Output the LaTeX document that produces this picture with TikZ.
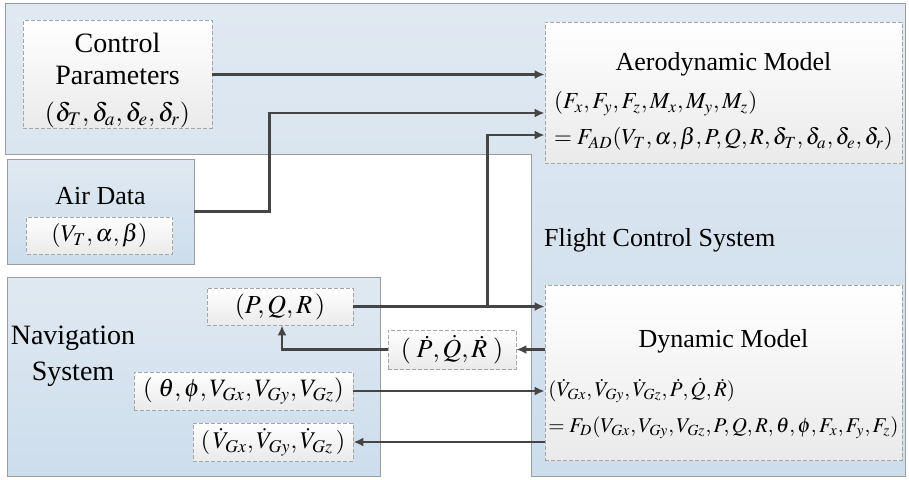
\documentclass[tikz,border=0pt]{standalone}
\usepackage{mathptmx}
\usepackage[no-math]{fontspec}
\setmainfont{Liberation Serif}
\usetikzlibrary{arrows.meta,positioning}
\definecolor{paneltop}{HTML}{E0E9F2}
\definecolor{panelbot}{HTML}{CCDDEC}
\definecolor{edgegray}{HTML}{9C9C9C}
\definecolor{boxgray}{HTML}{EAEAEA}
\definecolor{flowgray}{HTML}{454545}

\begin{document}
\begin{tikzpicture}[
  x=0.5pt, y=-0.5pt,
  panel/.style={draw=edgegray, top color=paneltop, bottom color=panelbot, inner sep=0pt},
  inbox/.style={draw=black!35, dash pattern=on 2pt off 1pt, top color=white, bottom color=boxgray, inner sep=0pt, align=center},
  flow/.style={-{Latex[length=5pt,width=4.5pt]}, line width=1.1pt, draw=flowgray},
  bigtext/.style={font=\fontsize{14pt}{18pt}\selectfont},
  midtext/.style={font=\fontsize{13pt}{16pt}\selectfont},
  smalltext/.style={font=\fontsize{12pt}{14pt}\selectfont},
]
\useasboundingbox (0,0) rectangle (909,479);

% flight control system
\draw[panel] (5,3) -- (905,3) -- (905,476) -- (531,476) -- (531,154) -- (5,154) -- cycle;
\node[midtext, anchor=west] (fcs) at (537,240) {Flight Control System};

\node[inbox, bigtext, minimum width=94.5pt, minimum height=52.5pt] (ctrl) at (117.5,74.5)
  {\rule{0pt}{16pt}Control\\[-2pt]Parameters\\[0.5pt]\fontsize{13pt}{18pt}\selectfont$(\delta_T,\delta_a,\delta_e,\delta_r)$};

\node[inbox, font=\fontsize{11.5pt}{13pt}\selectfont, minimum width=178.5pt, minimum height=70.5pt] (aero) at (723.5,92.5)
  {\begin{tabular}{@{}l@{}}
   \multicolumn{1}{c}{\rule{0pt}{19pt}\fontsize{13pt}{15pt}\selectfont Aerodynamic Model}\\[6pt]
   $(F_x,F_y,F_z,M_x,M_y,M_z)$\\[5pt]
   $=F_{AD}(V_T,\alpha,\beta,P,Q,R,\delta_T,\delta_a,\delta_e,\delta_r)$
   \end{tabular}};

\node[inbox, font=\fontsize{10.5pt}{12pt}\selectfont, minimum width=178.5pt, minimum height=87.5pt] (dyn) at (723.5,372.5)
  {\begin{tabular}{@{}l@{}}
   \multicolumn{1}{c}{\rule{0pt}{21pt}\fontsize{13pt}{15pt}\selectfont Dynamic Model}\\[12pt]
   $(\dot V_{Gx},\dot V_{Gy},\dot V_{Gz},\dot P,\dot Q,\dot R)$\\[6pt]
   $=F_D(V_{Gx},V_{Gy},V_{Gz},P,Q,R,\theta,\phi,F_x,F_y,F_z)$
   \end{tabular}};

% air data
\node[panel, minimum width=93.5pt, minimum height=52.5pt] (air) at (100.5,211.5) {};
\node[midtext] (airlbl) at (100.5,196) {Air Data};
\node[inbox, smalltext, minimum width=73pt, minimum height=18.5pt] (vab) at (99.5,235.5) {$(V_T,\alpha,\beta)$};

% navigation system
\node[panel, minimum width=186.5pt, minimum height=99.5pt] (nav) at (193.5,376.5) {};
\node[bigtext, align=center] (navlbl) at (73,356) {Navigation\\System};
\node[inbox, midtext, minimum width=73pt, minimum height=18.5pt] (pqr) at (280,306.5) {$(P,Q,R\,)$};
\node[inbox, font=\fontsize{12.5pt}{15pt}\selectfont, minimum width=109.5pt, minimum height=19pt] (att) at (243.5,391)
  {$(\;\theta,\phi,V_{Gx},V_{Gy},V_{Gz})$};
\node[inbox, smalltext, minimum width=80pt, minimum height=19pt] (vdot) at (273,442)
  {$(\,\dot V_{Gx},\dot V_{Gy},\dot V_{Gz}\,)$};
\node[inbox, midtext, minimum width=64pt, minimum height=19.5pt] (pqrdot) at (452,349.5)
  {$(\;\dot P,\dot Q,\dot R\;)$};

\coordinate (split) at ([xshift=67pt]pqr.east);

\draw[flow] (ctrl.east) -- (ctrl.east -| aero.west);
\draw[flow] (air.east) -- ([xshift=37.5pt]air.east) |- ([yshift=-10.25pt]aero.west);
\draw[flow] (split) |- ([yshift=-21.25pt]aero.west);
\draw[flow] (pqr.east) -- (pqr.east -| dyn.west);
\draw[flow] (pqrdot.east -| dyn.west) -- (pqrdot.east);
\draw[flow] (pqrdot.west) -| ([xshift=1pt]pqr.south);
\draw[flow] (att.east) -- (att.east -| dyn.west);
\draw[flow] (vdot.east -| dyn.west) -- (vdot.east);
\end{tikzpicture}
\end{document}
